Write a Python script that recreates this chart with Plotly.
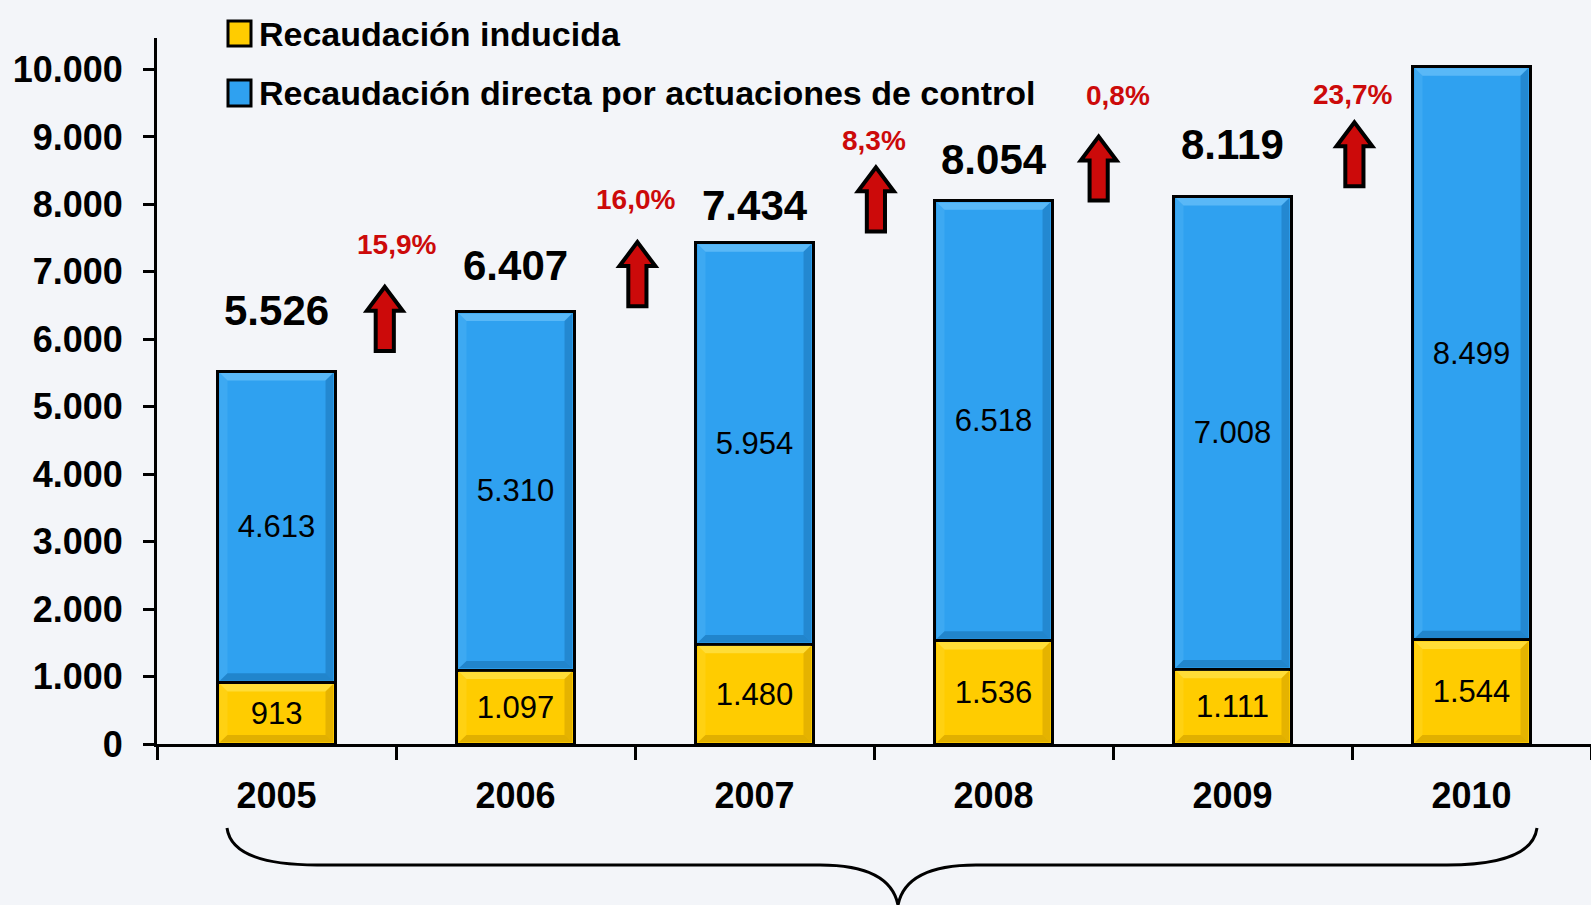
import plotly.graph_objects as go

# Recaudación (millones de euros)
years = ["2005", "2006", "2007", "2008", "2009", "2010"]
inducida = [913, 1097, 1480, 1536, 1111, 1544]
directa = [4613, 5310, 5954, 6518, 7008, 8499]
totales = [5526, 6407, 7434, 8054, 8119, 10043]

# placement of the decorations (data units of the y axis / x index)
total_label_y = [6431, 7093, 7982, 8660, 8886, 10663]
pct_label_x = [0.50, 1.50, 2.50, 3.52, 4.50]
pct_label_y = [7410, 8072, 8946, 9608, 9623]
arrow_x = [0.453, 1.51, 2.508, 3.44, 4.51]
arrow_base = [5828, 6491, 7600, 8057, 8268]

FONT = "Liberation Sans, Arial, sans-serif"
YELLOW = "#ffcc00"
BLUE = "#2fa1f0"
RED = "#cc0a0a"
BAR_W = 0.49

W, H = 1591, 905
L, B, T = 157, 161, 38
x_idx = list(range(len(years)))


def px(X):
    # pixel -> paper x
    return (X - L) / (W - L)


def py(Y):
    # pixel -> paper y
    return (H - B - Y) / (H - B - T)


def bevel(fig, xc, y0, y1, light, dark):
    # light band on top/left, dark band on bottom/right, like the original 3D bars
    hw = BAR_W / 2 - 0.008
    dx, dy = 0.032, 110
    l, r = xc - hw, xc + hw
    b, t = y0 + 25, y1 - 25
    fig.add_shape(type="path", xref="x", yref="y", line_width=0, fillcolor=light, opacity=0.45,
                  path=f"M {l},{t} L {r},{t} L {r - dx},{t - dy} L {l + dx},{t - dy} Z")
    fig.add_shape(type="path", xref="x", yref="y", line_width=0, fillcolor=light, opacity=0.15,
                  path=f"M {l},{t} L {l + dx},{t - dy} L {l + dx},{b + dy} L {l},{b} Z")
    fig.add_shape(type="path", xref="x", yref="y", line_width=0, fillcolor=dark, opacity=0.3,
                  path=f"M {r},{t} L {r},{b} L {r - dx},{b + dy} L {r - dx},{t - dy} Z")
    fig.add_shape(type="path", xref="x", yref="y", line_width=0, fillcolor=dark, opacity=0.35,
                  path=f"M {l},{b} L {r},{b} L {r - dx},{b + dy} L {l + dx},{b + dy} Z")


fig = go.Figure()
fig.add_trace(go.Bar(x=x_idx, y=inducida, name="Recaudación inducida",
                     marker=dict(color=YELLOW, line=dict(color="black", width=3)),
                     texttemplate="%{y:,}", textposition="inside", insidetextanchor="middle",
                     textfont=dict(family=FONT, size=31, color="black"), width=BAR_W))
fig.add_trace(go.Bar(x=x_idx, y=directa, name="Recaudación directa por actuaciones de control",
                     marker=dict(color=BLUE, line=dict(color="black", width=3)),
                     texttemplate="%{y:,}", textposition="inside", insidetextanchor="middle",
                     textfont=dict(family=FONT, size=31, color="black"), width=BAR_W))

for i in x_idx:
    bevel(fig, i, 0, inducida[i], "#fff27a", "#a87a00")
    bevel(fig, i, inducida[i], inducida[i] + directa[i], "#8fd4ff", "#0a4f8a")

# totals above bars
for i, t in enumerate(totales):
    fig.add_annotation(x=i, y=total_label_y[i], text=f"{t:,}".replace(",", "."),
                       showarrow=False, font=dict(family=FONT, size=42, color="black", weight="bold"))

# growth arrows and percentages
for k in range(len(totales) - 1):
    pct = (totales[k + 1] - totales[k]) / totales[k] * 100
    fig.add_annotation(x=pct_label_x[k], y=pct_label_y[k], text=f"{pct:.1f}%".replace(".", ","),
                       showarrow=False, font=dict(family=FONT, size=28, color=RED, weight="bold"))
    cx, b0 = arrow_x[k], arrow_base[k]
    top = b0 + 950
    neck = top - 356
    sw, hw = 0.038, 0.075
    path = (f"M {cx - sw},{b0} L {cx + sw},{b0} L {cx + sw},{neck} L {cx + hw},{neck} "
            f"L {cx},{top} L {cx - hw},{neck} L {cx - sw},{neck} Z")
    fig.add_shape(type="path", path=path, xref="x", yref="y", fillcolor=RED,
                  line=dict(color="black", width=4), layer="above")

# legend drawn by hand
legend_items = [("Recaudación inducida", YELLOW, 21, 46), ("Recaudación directa por actuaciones de control", BLUE, 80, 106)]
for name, col, y0, y1 in legend_items:
    fig.add_shape(type="rect", xref="paper", yref="paper", x0=px(228), x1=px(251), y0=py(y1), y1=py(y0),
                  fillcolor=col, line=dict(color="black", width=3))
    fig.add_annotation(xref="paper", yref="paper", x=px(257), y=py((y0 + y1) / 2), xanchor="left",
                       yanchor="middle", text=name, showarrow=False,
                       font=dict(family=FONT, size=34, color="black", weight="bold"))

# brace under the years
brace = (f"M {px(227)},{py(828)} Q {px(232)},{py(865)} {px(317)},{py(865)} "
         f"L {px(820)},{py(865)} Q {px(890)},{py(865)} {px(898)},{py(905)} "
         f"Q {px(906)},{py(865)} {px(976)},{py(865)} L {px(1447)},{py(865)} "
         f"Q {px(1532)},{py(865)} {px(1537)},{py(828)}")
fig.add_shape(type="path", path=brace, xref="paper", yref="paper", line=dict(color="black", width=3))

fig.update_layout(
    width=W, height=H, barmode="stack", showlegend=False, separators=",.",
    margin=dict(l=L, r=0, t=T, b=B),
    paper_bgcolor="#f3f5f9", plot_bgcolor="#f3f5f9",
    font=dict(family=FONT, color="black"),
)
fig.update_xaxes(range=[-0.5, 5.5], tickvals=x_idx, ticktext=years, ticks="",
                 tickfont=dict(family=FONT, size=36, weight="bold"), ticklabelstandoff=18,
                 showline=True, linecolor="black", linewidth=3, showgrid=False, zeroline=False,
                 minor=dict(tickvals=[i - 0.5 for i in range(len(years) + 1)], ticks="outside",
                            ticklen=13, tickwidth=3, tickcolor="black", showgrid=False))
fig.update_yaxes(range=[0, 10467], tickvals=list(range(0, 10001, 1000)), tickformat=",",
                 ticks="outside", ticklen=11, tickwidth=3, tickcolor="black",
                 tickfont=dict(family=FONT, size=36, weight="bold"), ticklabelstandoff=13,
                 showline=True, linecolor="black", linewidth=3, showgrid=False, zeroline=False)

fig.write_html("out.html", config={"displayModeBar": False},
               post_script="document.body.style.margin='0';")
